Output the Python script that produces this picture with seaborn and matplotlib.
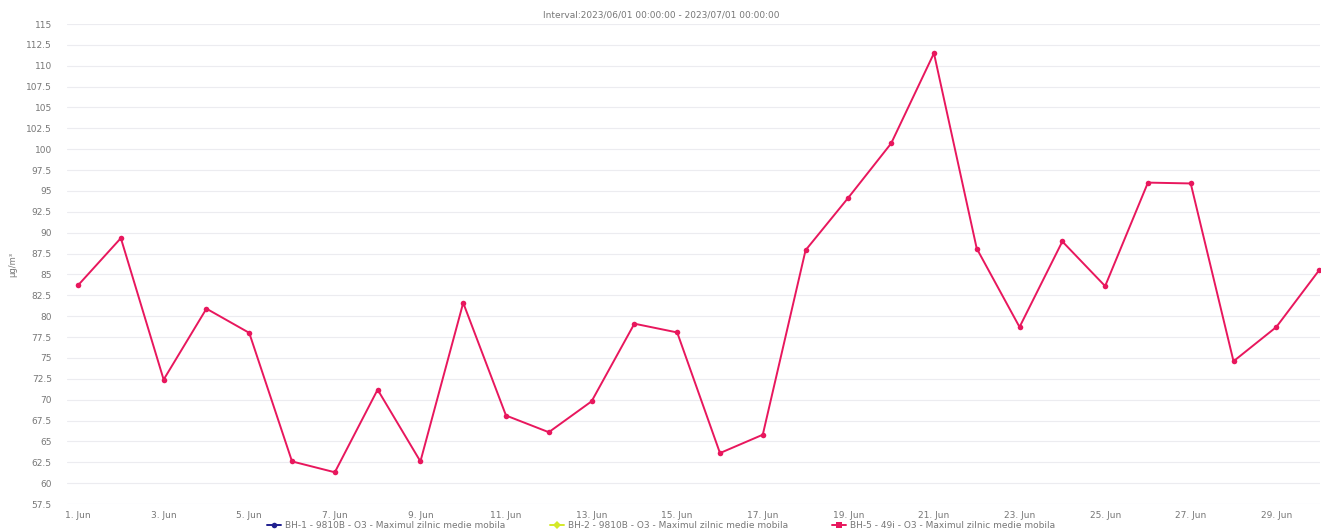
import pandas as pd
import numpy as np
import matplotlib
matplotlib.use("Agg")
import matplotlib.pyplot as plt
import matplotlib.dates as mdates
from matplotlib.lines import Line2D
import seaborn as sns

# daily max of moving average, O3, June 2023
days = pd.date_range("2023-06-01", "2023-06-30", freq="D")
bh5_values = [83.7, 89.35, 72.4, 80.9, 78.0, 62.6, 61.3, 71.2, 62.6, 81.6,
              68.1, 66.1, 69.8, 79.1, 78.05, 63.6, 65.8, 87.9, 94.2, 100.7,
              111.5, 88.1, 78.7, 88.95, 83.6, 96.0, 95.9, 74.6, 78.7, 85.5]
series_names = ["BH-1 - 9810B - O3 - Maximul zilnic medie mobila",
                "BH-2 - 9810B - O3 - Maximul zilnic medie mobila",
                "BH-5 - 49i - O3 - Maximul zilnic medie mobila"]
series_colors = ["#1f1f8f", "#d4e92a", "#e8175d"]
series_markers = ["o", "D", "s"]
y_ticks = np.arange(57.5, 115.1, 2.5)

df = pd.DataFrame({"date": days, "value": bh5_values})

sns.set_style("white")
plt.rcParams["font.family"] = ["DejaVu Sans"]

fig, ax = plt.subplots(figsize=(13.23, 5.31), dpi=100)
fig.subplots_adjust(left=67 / 1323, right=1320 / 1323, top=1 - 24 / 531, bottom=1 - 504 / 531)

sns.lineplot(data=df, x="date", y="value", ax=ax, color=series_colors[2],
             linewidth=1.4, marker="o", markersize=4, markeredgewidth=0)

ax.set_ylim(57.5, 115)
ax.set_yticks(y_ticks)
ax.set_yticklabels([f"{v:g}" for v in y_ticks])
ax.set_xlim(days[0] - pd.Timedelta(hours=6.2), days[-1] + pd.Timedelta(hours=0.5))
ax.xaxis.set_major_locator(mdates.DayLocator(bymonthday=range(1, 31, 2)))
ax.xaxis.set_major_formatter(mdates.DateFormatter("%-d. Jun"))

ax.grid(axis="y", color="#ececf0", linewidth=0.8)
ax.grid(axis="x", visible=False)
for s in ax.spines.values():
    s.set_visible(False)
ax.tick_params(axis="both", length=0, labelsize=6.5, labelcolor="#777777", pad=5)
ax.tick_params(axis="y", pad=11)

ax.set_xlabel("")
ax.set_ylabel("µg/m³", fontsize=6, color="#777777", labelpad=6)

fig.text(0.5, 1 - 15 / 531, "Interval:2023/06/01 00:00:00 - 2023/07/01 00:00:00",
         ha="center", va="center", fontsize=6.5, color="#777777")

handles = [Line2D([0], [0], color=c, marker=m, markersize=4, linewidth=1.4, markeredgewidth=0)
           for c, m in zip(series_colors, series_markers)]
fig.legend(handles, series_names, loc="center", bbox_to_anchor=(0.5, 1 - 526 / 531),
           ncol=3, frameon=False, fontsize=6.5, labelcolor="#777777",
           handlelength=1.5, handletextpad=0.5, columnspacing=4.9)

fig.savefig("out.png", dpi=100)
